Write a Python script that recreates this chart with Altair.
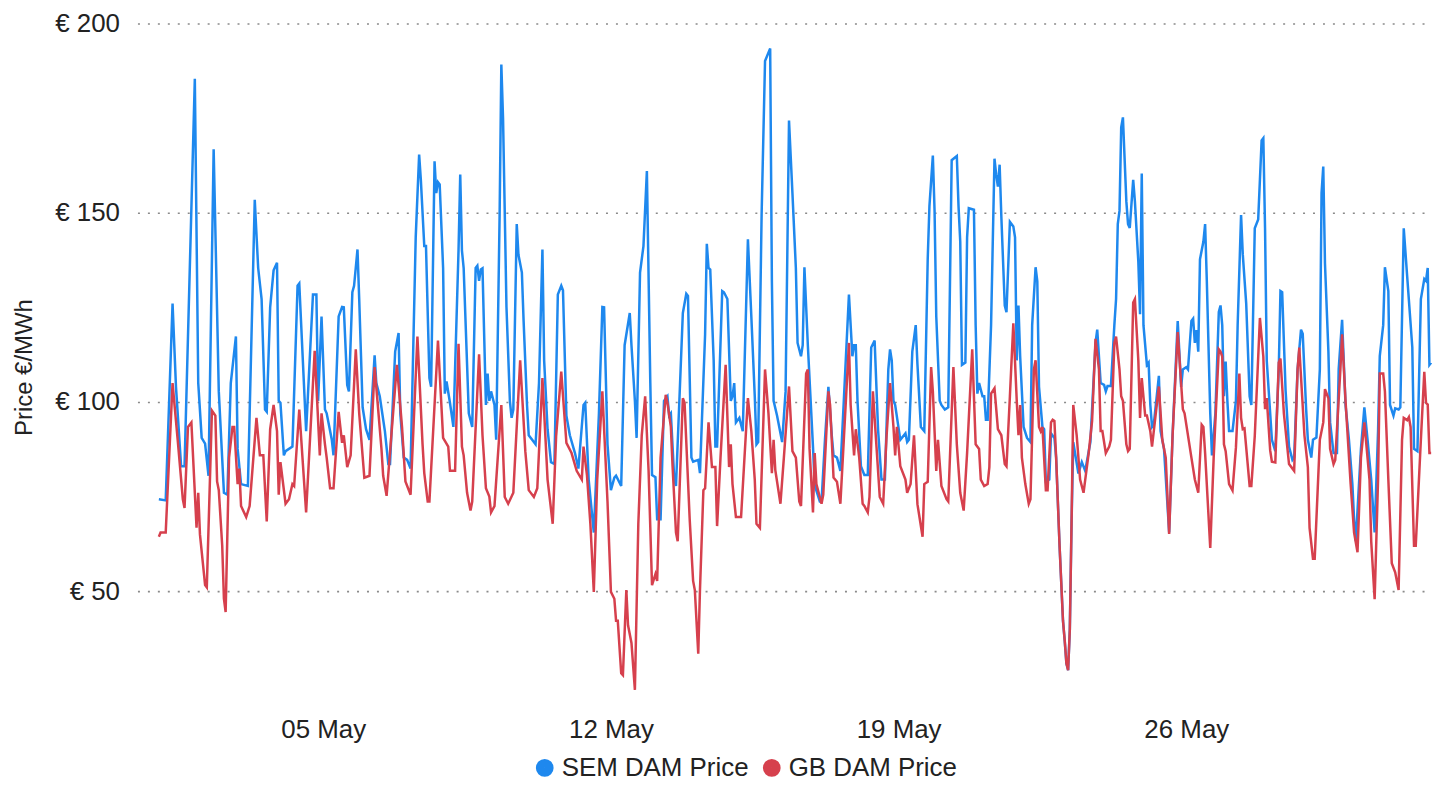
import altair as alt
import pandas as pd

# ---- data (hours since 2024-05-01 00:00, price in EUR/MWh)
sem_hours = [0, 4, 8, 10, 13, 15, 21, 23, 25, 27, 29, 32, 35, 38, 40, 42, 45, 46, 48, 52, 56, 58, 60, 62, 63, 65, 67, 69, 70, 71, 73, 74, 78, 81, 82, 86, 90, 92, 93, 95, 97, 98, 101, 102, 105, 107, 108, 110, 111, 113, 114, 116, 117, 119, 121, 123, 126, 127, 129, 132, 134, 135, 138, 140, 141, 143, 145, 147, 150, 152, 153, 155, 156, 158, 159, 161, 162, 163, 164, 166, 167, 168, 170, 172, 175, 176, 177, 178, 181, 183, 185, 186, 187, 188, 189, 191, 192, 193, 194, 196, 197, 199, 200, 201, 203, 205, 206, 207, 209, 210, 212, 213, 215, 216, 218, 220, 222, 224, 225, 227, 229, 231, 233, 235, 236, 238, 240, 243, 245, 248, 249, 251, 254, 257, 259, 260, 262, 264, 266, 267, 270, 272, 275, 276, 278, 279, 281, 283, 285, 287, 288, 290, 291, 293, 295, 297, 298, 299, 301, 302, 306, 308, 309, 311, 312, 315, 316, 319, 320, 321, 322, 324, 325, 326, 329, 330, 332, 334, 335, 336, 337, 339, 341, 344, 346, 348, 349, 350, 352, 354, 357, 358, 359, 361, 364, 366, 368, 370, 372, 373, 375, 376, 377, 379, 382, 383, 386, 387, 389, 391, 393, 394, 396, 398, 400, 403, 405, 406, 407, 408, 410, 412, 414, 416, 418, 420, 422, 424, 426, 427, 428, 429, 430, 433, 436, 437, 438, 440, 442, 443, 445, 447, 449, 450, 452, 453, 454, 456, 457, 459, 461, 463, 466, 467, 468, 469, 471, 472, 473, 476, 477, 478, 479, 481, 482, 483, 484, 486, 488, 489, 490, 491, 492, 494, 495, 497, 499, 500, 501, 502, 503, 505, 507, 509, 510, 512, 513, 514, 516, 517, 518, 520, 521, 523, 524, 526, 528, 529, 530, 531, 532, 533, 534, 537, 539, 541, 544, 547, 548, 550, 552, 553, 554, 556, 558, 559, 560, 561, 562, 563, 565, 566, 567, 569, 570, 572, 573, 574, 575, 577, 578, 579, 580, 581, 584, 585, 587, 590, 592, 595, 597, 598, 600, 601, 603, 604, 605, 606, 607, 608, 610, 611, 612, 614, 615, 617, 619, 620, 621, 622, 623, 624, 625, 627, 629, 630, 632, 633, 635, 637, 638, 640, 642, 644, 645, 646, 647, 649, 650, 652, 654, 655, 656, 658, 660, 662, 663, 665, 667, 668, 670, 671, 673, 674, 676, 678, 679, 680, 681, 683, 684, 686, 688, 689, 691, 693, 695, 697, 698, 699, 702, 704, 706, 708, 710, 712, 713, 715, 716, 718, 719, 721, 722, 724, 725, 727, 729, 732, 733, 735, 737, 739, 740, 741, 742, 743]
sem_prices = [74.3, 74, 126, 104, 83, 83, 185.4, 105, 90.5, 89, 80.5, 166.8, 102.8, 76, 75.5, 105, 117.3, 87.6, 78.3, 77.8, 153.4, 135.4, 127.2, 98, 97.4, 125, 134.8, 136.8, 100.3, 99.8, 85.9, 87, 88.2, 130.7, 131.3, 92.3, 128.4, 128.4, 100.3, 122.6, 98, 97, 90, 85.9, 122.6, 125.1, 125, 104.5, 102.8, 129, 130.7, 140.3, 127.2, 98.6, 92.8, 90, 112.3, 105, 101.5, 92.3, 83.6, 83.6, 113.3, 118.2, 97, 85.3, 84.7, 82.4, 143.5, 165.4, 158.7, 141.2, 141.2, 106.3, 104, 163.6, 155.2, 158.1, 157.5, 135.4, 102.2, 105.4, 99.8, 93.4, 140, 160.1, 140, 135.4, 97, 93.4, 135.4, 136, 132, 135, 135.3, 99.2, 107.5, 100.3, 102.8, 99.2, 90, 149.4, 189.2, 175, 125.1, 100.3, 95.8, 98, 147, 138.9, 134.2, 121.5, 99.2, 91.2, 90, 88.8, 105, 140.3, 111, 92.8, 84.1, 83.6, 128.4, 130.7, 129.5, 96.4, 91.2, 86.5, 82.4, 99.2, 99.8, 79.5, 65.5, 97, 125.1, 125, 88.8, 76.7, 80, 80.5, 77.8, 115, 123.5, 115, 100.3, 90.5, 134.2, 141.2, 161, 105, 80.7, 80.1, 69, 69, 100.3, 101.5, 96.4, 97, 79.5, 77.8, 123.5, 128.6, 128, 85.3, 84.2, 84.7, 81.2, 117.9, 141.8, 135.4, 135, 111, 88.2, 88.2, 129.3, 129, 127.2, 100.3, 101.5, 105, 94.6, 95.8, 92.3, 143, 122.6, 101.5, 88.8, 89.4, 149.4, 190.1, 193.4, 131.9, 100.3, 96.4, 89.4, 102.8, 174.4, 155.2, 135.4, 115.6, 112.1, 115, 135.6, 115, 88.2, 78, 73.7, 73.7, 90, 104, 91, 85.9, 85.3, 81.8, 100.3, 128.4, 112.1, 115, 115, 100.3, 83, 80.7, 80.7, 114.4, 116.2, 92.8, 79.5, 79.5, 108.6, 113.9, 111, 100.3, 99.2, 90, 91.7, 89.4, 90, 113.3, 120.3, 110, 93.4, 92.3, 137.7, 151.7, 165.1, 150.6, 122.6, 100.3, 99.2, 98, 98.6, 163.9, 165, 151.7, 142.4, 109.8, 110.4, 143.5, 151.2, 150.8, 120.3, 102.2, 105, 101.5, 101.5, 95.3, 95.3, 120.3, 164.3, 160, 156.9, 162.7, 149, 125.5, 123.7, 147.6, 146.4, 143.5, 111, 125.5, 112, 93.4, 90.5, 89.4, 120.3, 135.6, 131.9, 104, 93.4, 92.8, 79, 79.5, 91.7, 90.5, 85.3, 62, 42.2, 37, 30.9, 29.1, 40, 68, 89.4, 81.1, 84.1, 81.8, 89.4, 115.6, 119.1, 105, 104.5, 102.8, 104.2, 104.2, 120.3, 127.2, 147, 150.5, 172.6, 175.2, 153, 147, 146, 158.7, 153, 137, 123.2, 160.4, 120.3, 109.8, 110.4, 99.2, 93.4, 94, 106.9, 92.3, 87.6, 65.5, 91.2, 121.4, 104, 108.6, 109.2, 108.6, 121.4, 122, 115.6, 119, 113.3, 137.7, 142.4, 147, 131.9, 97, 85.9, 97, 123.8, 125.5, 120.3, 101.5, 110.7, 100.3, 92.3, 92.3, 100.3, 120.3, 149.4, 139, 126, 101.5, 99.2, 145.9, 148.2, 169.1, 169.7, 146, 110.9, 97, 90, 87, 108.6, 129.3, 129, 103, 88.2, 84.7, 85.3, 108.6, 119.1, 118, 98.1, 90, 85.3, 90, 90.6, 108.6, 155.2, 162.2, 136.6, 113.3, 94.6, 86.5, 86.5, 108.6, 121.7, 99.2, 90, 78.3, 69, 63.2, 87.6, 98.6, 89.4, 79.5, 65.5, 92.3, 112.1, 120.3, 135.6, 129.3, 99.2, 96.4, 98.3, 98, 98.6, 145.9, 133.2, 114.4, 87.6, 87, 127.2, 132.5, 132, 135.4, 109.8, 110.4]

gb_hours = [0, 1, 4, 8, 11, 14, 15, 17, 19, 22, 23, 24, 27, 28, 31, 33, 34, 35, 37, 38, 39, 41, 43, 44, 46, 47, 48, 51, 53, 57, 59, 61, 63, 65, 67, 69, 70, 71, 74, 76, 78, 79, 82, 86, 91, 94, 95, 97, 98, 100, 102, 105, 107, 108, 110, 112, 115, 117, 120, 123, 126, 130, 131, 133, 139, 142, 144, 147, 151, 154, 155, 157, 158, 163, 166, 169, 170, 173, 175, 177, 178, 180, 182, 183, 187, 189, 191, 193, 194, 196, 200, 202, 204, 207, 211, 214, 216, 219, 221, 224, 227, 230, 232, 235, 238, 241, 244, 247, 248, 250, 252, 254, 256, 259, 262, 264, 266, 267, 268, 270, 271, 273, 274, 276, 278, 280, 282, 284, 286, 288, 290, 291, 293, 296, 297, 299, 300, 302, 303, 306, 307, 310, 312, 313, 315, 316, 318, 319, 321, 323, 325, 326, 328, 331, 333, 334, 335, 337, 340, 344, 346, 348, 349, 351, 354, 356, 358, 359, 360, 363, 365, 368, 370, 372, 374, 375, 378, 379, 380, 382, 383, 384, 387, 388, 391, 392, 394, 396, 398, 400, 403, 404, 406, 407, 409, 411, 412, 414, 415, 417, 419, 421, 423, 425, 427, 429, 430, 431, 433, 436, 437, 439, 441, 443, 446, 447, 449, 451, 452, 454, 455, 457, 460, 461, 464, 466, 468, 470, 472, 475, 477, 479, 480, 482, 484, 485, 486, 488, 490, 492, 494, 495, 497, 499, 501, 502, 503, 504, 506, 508, 509, 511, 512, 514, 515, 516, 518, 519, 521, 522, 523, 524, 526, 528, 529, 530, 531, 532, 533, 534, 536, 538, 540, 543, 545, 547, 549, 550, 551, 553, 555, 556, 558, 559, 561, 562, 563, 565, 566, 567, 569, 570, 572, 573, 574, 576, 577, 579, 580, 584, 586, 588, 590, 592, 595, 598, 599, 603, 605, 607, 609, 610, 611, 614, 616, 619, 620, 621, 622, 623, 625, 627, 629, 631, 632, 633, 634, 637, 638, 640, 643, 645, 646, 647, 649, 650, 652, 654, 655, 657, 660, 663, 665, 666, 669, 671, 672, 674, 675, 678, 680, 681, 683, 684, 686, 687, 690, 691, 693, 696, 698, 700, 702, 704, 707, 708, 710, 712, 713, 715, 716, 718, 720, 722, 724, 726, 727, 729, 730, 731, 733, 734, 737, 739, 740, 741, 742, 743]
gb_prices = [64.4, 65.5, 65.5, 105, 90, 74.3, 72, 93.4, 94.6, 66.8, 76, 65, 51.6, 51, 97.7, 96.4, 79, 76.7, 62, 48, 44.5, 85.3, 93.4, 93.4, 78.3, 82.4, 72.5, 69.6, 72.5, 95.8, 85.9, 85.9, 68.4, 92.8, 99.2, 92.3, 75.5, 84.1, 73.1, 74.3, 78.3, 77.8, 98, 70.8, 113.5, 85.9, 97, 88.8, 85.3, 77.2, 77.2, 97.4, 89.2, 91.2, 82.8, 85.9, 113.9, 97, 80, 80.5, 109.2, 87.6, 80.5, 75.2, 109.8, 93.4, 79, 75.5, 117.3, 88.8, 81.2, 73.7, 73.7, 116.2, 90.5, 88.2, 81.8, 81.8, 115.4, 88.2, 85.9, 76, 71.3, 73.7, 112.6, 91.2, 77.2, 75, 70.8, 72.5, 99.2, 74.9, 73.1, 76, 111, 87, 76.7, 74.9, 77.2, 106.3, 79.5, 67.8, 91, 108, 89.2, 86.5, 81.8, 79.5, 88.2, 80.7, 67.8, 49.8, 79.5, 102.8, 73.7, 49.8, 48, 42.2, 42.2, 28.3, 27.8, 50.3, 41, 36.3, 23.9, 67.8, 91.2, 101.5, 81.8, 51.6, 54.5, 52.7, 85.3, 101.9, 99.8, 93.4, 83, 65.5, 63.2, 101, 99.8, 69, 52.7, 50.3, 33.5, 50.3, 76.7, 77.2, 94.6, 82.8, 82.8, 67.2, 85.3, 109.8, 82.8, 88.8, 78.3, 69.6, 69.6, 101, 92.3, 79.5, 67.8, 66.7, 108.6, 97, 81.2, 90, 82, 73.1, 85.3, 104.1, 87, 85.3, 73.7, 72.5, 107.5, 108.6, 87.6, 70.8, 86.5, 78.3, 73.1, 75.5, 102.8, 99.2, 80, 78.9, 73.1, 90, 115.6, 99.2, 85.9, 92.8, 85.3, 73.1, 72.5, 70.8, 74.9, 102.8, 88.8, 74.9, 73.1, 91.2, 105, 93.4, 85.9, 93.4, 83, 79.5, 76, 78.3, 91.2, 73, 64.4, 78.3, 78.9, 109.2, 102.8, 81.8, 90, 77.8, 74.3, 73.7, 109.2, 88.8, 76, 71.3, 86.5, 113.9, 88.8, 87.6, 79.5, 77.8, 78.3, 82.8, 102.2, 103.6, 92.8, 91.2, 83.6, 83, 101.5, 120.8, 100.3, 91.2, 99.2, 85.3, 78.3, 73.1, 74.3, 108.6, 111, 93.4, 92.3, 93.4, 76.7, 76.7, 94.6, 95.3, 95, 85.3, 62, 42.2, 37, 30.9, 29.1, 40, 68, 99.2, 91.2, 79.5, 76, 86.5, 95, 116.7, 108.6, 92.3, 92.3, 86.5, 88.2, 90, 115.6, 117.3, 108.6, 101.5, 100.3, 88.8, 87, 87.6, 126.3, 127.2, 111, 95.8, 106.3, 96.4, 96.4, 92.3, 88.2, 104.1, 90, 85.3, 65.1, 91.2, 118.5, 98.1, 97, 85.3, 79.5, 76, 94, 93.4, 86.5, 61.4, 85.3, 113.9, 113.3, 112, 88.8, 87, 78.3, 76.6, 88, 107.5, 95.8, 92.8, 93, 77.8, 77.8, 91, 122.2, 112, 98.1, 101, 87.2, 84.2, 84, 110.4, 111.5, 97, 83.6, 81.8, 108.6, 114.4, 91.2, 82.8, 66.7, 58.6, 58.6, 90, 94.6, 103.4, 101, 87.6, 83.6, 84.7, 108.6, 117.9, 100.3, 78.3, 65.5, 60.3, 85.3, 94.6, 79.5, 63.2, 47.9, 79.5, 107.5, 107.5, 102.8, 79.5, 57.4, 55, 50.3, 90, 95.8, 95.2, 96, 93.4, 62, 62, 90, 108, 99.8, 99.3, 86.5, 86.5]

series_names = ["SEM DAM Price", "GB DAM Price"]
series_colors = ["#1E88EE", "#D6404D"]
tick_days = [5, 12, 19, 26]
y_ticks = [50, 100, 150, 200]
y_domain = [20, 200]

start = pd.Timestamp("2024-05-01 00:00")


def frame(hours, prices, name):
    return pd.DataFrame({
        "time": [(start + pd.Timedelta(hours=h)).strftime("%Y-%m-%dT%H:%M:%S") for h in hours],
        "price": prices,
        "series": name,
    })


df = pd.concat([frame(sem_hours, sem_prices, series_names[0]),
                frame(gb_hours, gb_prices, series_names[1])], ignore_index=True)

FONT = "Liberation Sans, Arial, sans-serif"
TXT = "#222222"

x_enc = alt.X(
    "time:T",
    scale=alt.Scale(domain=[alt.DateTime(year=2024, month=4, date=30, hours=11, minutes=30),
                            alt.DateTime(year=2024, month=5, date=31, hours=23, minutes=30)]),
    axis=alt.Axis(values=[alt.DateTime(year=2024, month=5, date=d) for d in tick_days],
                  format="%d %b", title=None, grid=False, domain=False, ticks=False,
                  labelFontSize=26, labelFont=FONT, labelColor=TXT, labelPadding=12),
)
y_enc = alt.Y(
    "price:Q",
    scale=alt.Scale(domain=y_domain, nice=False, zero=False),
    axis=alt.Axis(values=y_ticks, labelExpr="'€ ' + datum.value", title="Price €/MWh",
                  grid=True, gridDash=[2, 8], gridColor="#8a8a8a", gridWidth=1.6,
                  domain=False, ticks=False, labelFontSize=26, labelFont=FONT,
                  labelColor=TXT, labelPadding=18, titleFontSize=24, titleFont=FONT,
                  titleFontWeight="normal", titleColor=TXT, titleX=-106, titleY=345,
                  titleBaseline="alphabetic"),
)
color_enc = alt.Color(
    "series:N",
    scale=alt.Scale(domain=series_names, range=series_colors),
    legend=alt.Legend(orient="none", legendX=396, legendY=734, direction="horizontal",
                      title=None, symbolType="circle", symbolSize=81,
                      symbolStrokeWidth=8.8, symbolOpacity=1, labelFontSize=26, labelFont=FONT,
                      labelColor=TXT, labelOffset=4, labelLimit=400, columnPadding=0),
)

base = alt.Chart(df).encode(x=x_enc, y=y_enc, color=color_enc)
sem_line = base.transform_filter(alt.datum.series == series_names[0]).mark_line(strokeWidth=2.5)
gb_line = base.transform_filter(alt.datum.series == series_names[1]).mark_line(strokeWidth=2.5)

chart = alt.layer(sem_line, gb_line).properties(
    width=1300, height=684,
    autosize=alt.AutoSizeParams(type="none"),
    padding={"left": 130, "top": 14, "right": 0, "bottom": 76},
    background="white",
).configure_view(stroke=None, strokeWidth=0)

chart.save("out.html", embed_options={"renderer": "svg", "actions": False})
